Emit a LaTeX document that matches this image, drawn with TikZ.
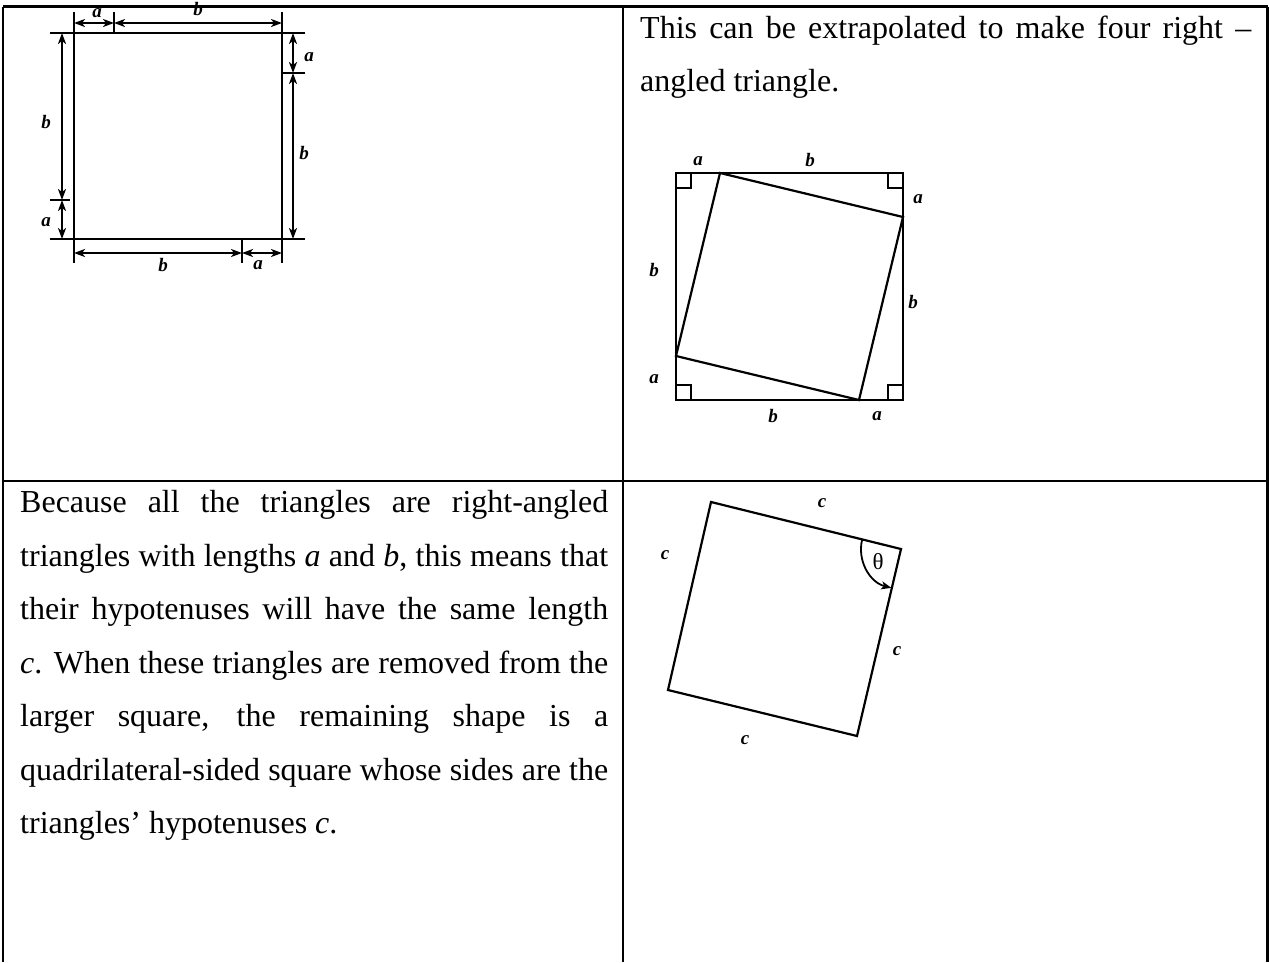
\documentclass[tikz,border=0pt]{standalone}
\usepackage{fontspec}
\setmainfont{Liberation Serif}
\usetikzlibrary{arrows.meta,calc}
\begin{document}
\begin{tikzpicture}[x=1pt,y=-1pt,
  tbl/.style={line width=2.2pt},
  geo/.style={line width=2.2pt, line join=miter},
  ext/.style={line width=1.8pt},
  dim/.style={line width=1.8pt, {Stealth[length=11pt,width=8pt,inset=3pt]}-{Stealth[length=11pt,width=8pt,inset=3pt]}},
  lbl/.style={font=\fontsize{19}{19}\selectfont\bfseries\itshape, inner sep=0pt},
  txt/.style={font=\fontsize{32}{32}\selectfont, inner sep=0pt, anchor=base west},
]
\useasboundingbox (0,0) rectangle (1269,962);
\fill[white] (0,0) rectangle (1269,962);

% ---------- table ----------
\coordinate (t1) at (3,6.5);   \coordinate (t2) at (623,6.5);  \coordinate (t3) at (1267.5,6.5);
\coordinate (m1) at (3,481);   \coordinate (m3) at (1267.5,481);
\coordinate (b1) at (3,962);   \coordinate (b2) at (623,962);  \coordinate (b3) at (1267.5,962);
\draw[tbl] (t1) -- (t3);
\draw[tbl] (m1) -- (m3);
\draw[tbl] (t1) -- (b1);
\draw[tbl] (t2) -- (b2);
\draw[tbl] (t3) -- (b3);

% ---------- top-left dimensioned square ----------
\coordinate (lvT) at (74,12);  \coordinate (lvB) at (74,263);
\coordinate (rvT) at (282,12); \coordinate (rvB) at (282,263);
\coordinate (thL) at (50,33);  \coordinate (thR) at (305,33);
\coordinate (bhL) at (50,239); \coordinate (bhR) at (305,239);
\coordinate (tk1a) at (114,12);  \coordinate (tk1b) at (114,33);
\coordinate (tk2a) at (242,239); \coordinate (tk2b) at (242,263);
\coordinate (tk3a) at (50,200);  \coordinate (tk3b) at (70,200);
\coordinate (tk4a) at (282,73);  \coordinate (tk4b) at (305,73);
\draw[geo] (lvT) -- (lvB);
\draw[geo] (rvT) -- (rvB);
\draw[geo] (thL) -- (thR);
\draw[geo] (bhL) -- (bhR);
\draw[ext] (tk1a) -- (tk1b);
\draw[ext] (tk2a) -- (tk2b);
\draw[ext] (tk3a) -- (tk3b);
\draw[ext] (tk4a) -- (tk4b);
% dimension lines
\coordinate (d1) at (74,23);  \coordinate (d2) at (114,23);  \coordinate (d3) at (282,23);
\coordinate (d4) at (62,33);  \coordinate (d5) at (62,200);  \coordinate (d6) at (62,239);
\coordinate (d7) at (293,33); \coordinate (d8) at (293,73);  \coordinate (d9) at (293,239);
\coordinate (d10) at (74,253); \coordinate (d11) at (242,253); \coordinate (d12) at (282,253);
\draw[dim] (d1) -- (d2);
\draw[dim] (d2) -- (d3);
\draw[dim] (d4) -- (d5);
\draw[dim] (d5) -- (d6);
\draw[dim] (d7) -- (d8);
\draw[dim] (d8) -- (d9);
\draw[dim] (d10) -- (d11);
\draw[dim] (d11) -- (d12);
\node[lbl] (la1) at (97,13) {a};
\node[lbl] (lb1) at (198,9) {b};
\node[lbl] (lb2) at (46,122) {b};
\node[lbl] (la2) at (46,222) {a};
\node[lbl] (la3) at (309,57) {a};
\node[lbl] (lb3) at (304,153) {b};
\node[lbl] (lb4) at (163,265) {b};
\node[lbl] (la4) at (258,265) {a};

% ---------- top-right: square with four triangles ----------
\coordinate (O1) at (676,173); \coordinate (O2) at (903,173);
\coordinate (O3) at (903,400); \coordinate (O4) at (676,400);
\coordinate (P1) at (720,173); \coordinate (P2) at (903,217);
\coordinate (P3) at (859,400); \coordinate (P4) at (676,356);
\draw[geo] (O1) -- (O2) -- (O3) -- (O4) -- cycle;
\draw[geo] (P1) -- (P2) -- (P3) -- (P4) -- cycle;
\draw[ext] ($(O1)+(0,15)$) -- ($(O1)+(15,15)$) -- ($(O1)+(15,0)$);
\draw[ext] ($(O2)+(0,15)$) -- ($(O2)+(-15,15)$) -- ($(O2)+(-15,0)$);
\draw[ext] ($(O3)+(0,-15)$) -- ($(O3)+(-15,-15)$) -- ($(O3)+(-15,0)$);
\draw[ext] ($(O4)+(0,-15)$) -- ($(O4)+(15,-15)$) -- ($(O4)+(15,0)$);
\node[lbl] (ta1) at (698,161) {a};
\node[lbl] (tb1) at (810,160) {b};
\node[lbl] (ta2) at (918,199) {a};
\node[lbl] (tb2) at (913,302) {b};
\node[lbl] (tb3) at (654,270) {b};
\node[lbl] (ta3) at (654,379) {a};
\node[lbl] (tb4) at (773,416) {b};
\node[lbl] (ta4) at (877,416) {a};

% ---------- bottom-right: tilted square c ----------
\coordinate (A) at (711,502); \coordinate (B) at (901,549);
\coordinate (C) at (857,736); \coordinate (D) at (668,690);
\draw[geo] (A) -- (B) -- (C) -- (D) -- cycle;
\draw[ext, -{Stealth[length=10pt,width=8pt,inset=2.5pt]}]
  ($(B)+(193.8:40)$) arc[start angle=193.8, end angle=104, radius=40];
\node[font=\fontsize{23}{23}\selectfont, inner sep=0pt] (th) at (878,562) {θ};
\node[lbl] (c1) at (822,503) {c};
\node[lbl] (c2) at (665,555) {c};
\node[lbl] (c3) at (897,651) {c};
\node[lbl] (c4) at (745,740) {c};

% ---------- texts ----------
\node[txt] (r1) at (640,38) {\makebox[611pt][s]{This can be extrapolated to make four right –}};
\node[txt] (r2) at (640,91.5) {angled triangle.};

\node[txt] (l1) at (20,512.5) {\makebox[588pt][s]{Because all the triangles are right-angled}};
\node[txt] (l2) at (20,566) {\makebox[588pt][s]{triangles with lengths \textit{a} and \textit{b}, this means that}};
\node[txt] (l3) at (20,619.5) {\makebox[588pt][s]{their hypotenuses will have the same length}};
\node[txt] (l4) at (20,673) {\makebox[588pt][s]{\textit{c}. When these triangles are removed from the}};
\node[txt] (l5) at (20,726.5) {\makebox[588pt][s]{larger square, the remaining shape is a}};
\node[txt] (l6) at (20,780) {\makebox[588pt][s]{quadrilateral-sided square whose sides are the}};
\node[txt] (l7) at (20,833.5) {triangles’ hypotenuses \textit{c}.};
\end{tikzpicture}
\end{document}
